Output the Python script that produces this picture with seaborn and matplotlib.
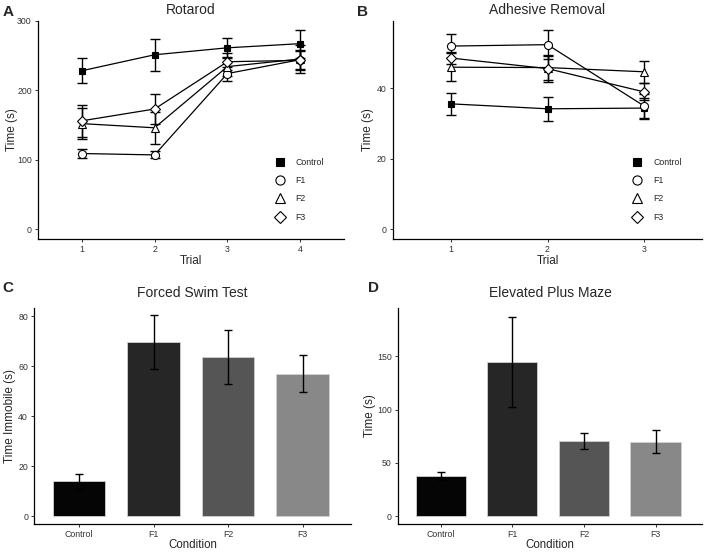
import numpy as np
import pandas as pd
import seaborn as sns
import matplotlib
matplotlib.use("Agg")
import matplotlib.pyplot as plt
from matplotlib.lines import Line2D

# Rotarod (panel A)
rot_trials = [1, 2, 3, 4]
rot_control = [228, 251, 261, 267]
rot_control_se = [18, 23, 14, 20]
rot_f1 = [109, 107, 224, 244]
rot_f1_se = [7, 5, 10, 14]
rot_f2 = [152, 146, 234, 245]
rot_f2_se = [22, 23, 14, 20]
rot_f3 = [156, 173, 241, 243]
rot_f3_se = [23, 21, 12, 14]

# Adhesive removal (panel B)
adh_trials = [1, 2, 3]
adh_control = [35.6, 34.2, 34.4]
adh_control_se = [3.2, 3.4, 3.0]
adh_f1 = [52.0, 52.4, 35.0]
adh_f1_se = [3.4, 4.1, 3.5]
adh_f2 = [46.0, 45.9, 44.7]
adh_f2_se = [3.9, 3.6, 3.2]
adh_f3 = [48.6, 45.6, 39.0]
adh_f3_se = [1.6, 3.7, 2.4]

# Forced swim (panel C) and elevated plus maze (panel D)
conditions = ["Control", "F1", "F2", "F3"]
fst_mean = [14.1, 69.7, 63.6, 57.1]
fst_se = [3.0, 10.7, 10.8, 7.3]
epm_mean = [38.2, 144.7, 70.7, 70.0]
epm_se = [3.8, 42.0, 7.7, 10.6]

groups = ["Control", "F1", "F2", "F3"]
markers = {"Control": "s", "F1": "o", "F2": "^", "F3": "D"}
msizes = {"Control": 5.0, "F1": 5.8, "F2": 6.2, "F3": 5.2}
bar_colors = ["#050505", "#262626", "#555555", "#888888"]

sns.set_theme(style="white")
plt.rcParams["font.family"] = ["Liberation Sans", "DejaVu Sans"]

W, H = 706, 552
fig = plt.figure(figsize=(W / 100, H / 100), dpi=100)


def px_axes(left, top, right, bottom):
    return fig.add_axes([left / W, 1 - bottom / H, (right - left) / W, (bottom - top) / H])


def style_axes(ax):
    sns.despine(ax=ax)
    for s in ["left", "bottom"]:
        ax.spines[s].set_color("black")
        ax.spines[s].set_linewidth(0.9)
    ax.tick_params(axis="both", which="both", length=2.5, width=0.7, color="#333333",
                   labelsize=6.3, labelcolor="#333333", pad=2, left=True, bottom=True)


def line_panel(ax, trials, series, ses, title, ylim, yticks, letter, ylab_x):
    rows = []
    for g, vals in zip(groups, series):
        for t, v in zip(trials, vals):
            rows.append({"Trial": t, "Time": v, "Group": g})
    df = pd.DataFrame(rows)
    for g, vals, se in zip(groups, series, ses):
        ax.errorbar(trials, vals, yerr=se, fmt="none", ecolor="black",
                    elinewidth=1.0, capsize=3.3, capthick=1.0, zorder=2)
    sns.lineplot(data=df, x="Trial", y="Time", hue="Group", style="Group",
                 palette=["black"] * 4, markers=markers, dashes=False,
                 linewidth=0.9, ax=ax, legend=False, zorder=3)
    for ln, g in zip(ax.lines[-4:], groups):
        ln.set_markersize(msizes[g])
        ln.set_markeredgecolor("black")
        ln.set_markeredgewidth(0.8)
        ln.set_markerfacecolor("black" if g == "Control" else "white")
    ax.set_xlim(0.4, len(trials) + 0.6)
    ax.set_xticks(trials)
    ax.set_ylim(*ylim)
    ax.set_yticks(yticks)
    ax.set_xlabel("Trial", fontsize=8.5, labelpad=1)
    ax.set_ylabel("Time (s)", fontsize=8.5)
    ax.yaxis.set_label_coords(ylab_x, 0.5)
    ax.set_title(title, fontsize=10, pad=5)
    style_axes(ax)
    handles = [Line2D([], [], linestyle="none", marker=markers[g], markersize=msizes[g] + 0.8,
                      markerfacecolor="black" if g == "Control" else "white",
                      markeredgecolor="black", markeredgewidth=0.8) for g in groups]
    ax.legend(handles, groups, loc="upper left", bbox_to_anchor=(0.765, 0.386),
              frameon=False, fontsize=6.3, handlelength=1.0, handletextpad=1.3,
              labelspacing=1.05, borderaxespad=0)
    ax.text(-0.115, 1.04, letter, transform=ax.transAxes, fontsize=11, fontweight="bold",
            ha="left", va="center")


def bar_panel(ax, means, ses, title, ylabel, ylim, yticks, letter, ylab_x):
    df = pd.DataFrame({"Condition": conditions, "Value": means})
    sns.barplot(data=df, x="Condition", y="Value", hue="Condition", palette=bar_colors,
                width=0.7, edgecolor="#d0d0d0", linewidth=0.6, errorbar=None,
                legend=False, ax=ax)
    ax.errorbar(np.arange(len(conditions)), means, yerr=ses, fmt="none",
                ecolor="black", elinewidth=1.0, capsize=2.6, capthick=1.0, zorder=4)
    ax.set_xlim(-0.6, len(conditions) - 0.35)
    ax.set_ylim(*ylim)
    ax.set_yticks(yticks)
    ax.set_xlabel("Condition", fontsize=8.3, labelpad=0)
    ax.set_ylabel(ylabel, fontsize=8.5)
    ax.yaxis.set_label_coords(ylab_x, 0.5)
    ax.set_title(title, fontsize=10, pad=8)
    style_axes(ax)
    ax.text(-0.1, 1.09, letter, transform=ax.transAxes, fontsize=11, fontweight="bold",
            ha="left", va="center")


axA = px_axes(38, 20.7, 344, 238.7)
line_panel(axA, rot_trials, [rot_control, rot_f1, rot_f2, rot_f3],
           [rot_control_se, rot_f1_se, rot_f2_se, rot_f3_se],
           "Rotarod", (-13.5, 300), [0, 100, 200, 300], "A", -0.065)

axB = px_axes(393, 20.7, 702, 238.7)
line_panel(axB, adh_trials, [adh_control, adh_f1, adh_f2, adh_f3],
           [adh_control_se, adh_f1_se, adh_f2_se, adh_f3_se],
           "Adhesive Removal", (-2.67, 59.2), [0, 20, 40], "B", -0.061)

axC = px_axes(34.3, 307.7, 351, 524)
bar_panel(axC, fst_mean, fst_se, "Forced Swim Test", "Time Immobile (s)",
          (-3.1, 83.5), [0, 20, 40, 60, 80], "C", -0.058)

axD = px_axes(398, 307.7, 702, 524)
bar_panel(axD, epm_mean, epm_se, "Elevated Plus Maze", "Time (s)",
          (-7.2, 195.6), [0, 50, 100, 150], "D", -0.073)

fig.savefig("out.png", dpi=100)
